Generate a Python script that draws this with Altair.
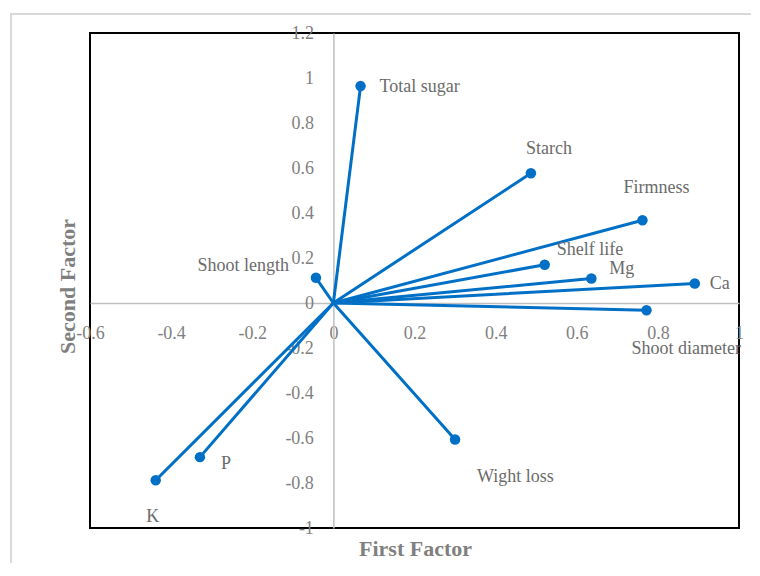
import altair as alt
import pandas as pd

# Variables and their loadings on the two factors
names = ["Total sugar", "Starch", "Firmness", "Shelf life", "Mg", "Ca",
         "Shoot diameter", "Shoot length", "Wight loss", "P", "K"]
first_factor = [0.067, 0.487, 0.762, 0.521, 0.636, 0.891, 0.772, -0.043, 0.300, -0.329, -0.438]
second_factor = [0.964, 0.577, 0.368, 0.170, 0.109, 0.087, -0.032, 0.112, -0.607, -0.685, -0.788]

x_ticks = [-0.6, -0.4, -0.2, 0, 0.2, 0.4, 0.6, 0.8, 1]
y_ticks = [-1, -0.8, -0.6, -0.4, -0.2, 0, 0.2, 0.4, 0.6, 0.8, 1, 1.2]

df = pd.DataFrame({"name": names, "x": first_factor, "y": second_factor})
df["x0"] = 0.0
df["y0"] = 0.0

# label placement (style): dx, dy, align
label_style = {
    "Total sugar": (19, 1, "left"),
    "Starch": (-5, -24, "left"),
    "Firmness": (-19, -32, "left"),
    "Shelf life": (12, -15, "left"),
    "Mg": (18, -9, "left"),
    "Ca": (15, 1, "left"),
    "Shoot diameter": (-15, 39, "left"),
    "Shoot length": (-27, -12, "right"),
    "Wight loss": (22, 37, "left"),
    "P": (21, 7, "left"),
    "K": (-3, 37, "center"),
}

W, H = 649, 495
FONT = "Liberation Serif"
BLUE = "#0070C6"
LABEL_EXPR = "replace(format(datum.value, '~g'), '\u2212', '-')"

xscale = alt.Scale(domain=[-0.6, 1], nice=False, zero=False)
yscale = alt.Scale(domain=[-1, 1.2], nice=False, zero=False)

x_zero_px = (0 - (-0.6)) / 1.6 * W
y_zero_px = (1.2 - 0) / 2.2 * H

xaxis = alt.Axis(
    values=x_ticks, offset=-(H - y_zero_px), grid=False, ticks=False, tickSize=0,
    domainColor="#bfbfbf", domainWidth=1.5, labelColor="#808080", labelFont=FONT,
    labelFontSize=18, labelPadding=21, labelFlush=False, labelOverlap=False,
    labelBound=False, labelExpr=LABEL_EXPR,
    title="First Factor", titleFont=FONT, titleFontSize=22, titleFontWeight="bold",
    titleColor="#7f7f7f", titleX=325, titleY=H - y_zero_px + 20,
    titleAlign="center", titleBaseline="middle", titleAnchor="start",
)
yaxis = alt.Axis(
    values=y_ticks, offset=-x_zero_px, grid=False, ticks=False, tickSize=0,
    domainColor="#bfbfbf", domainWidth=1.5, labelColor="#808080", labelFont=FONT,
    labelFontSize=18, labelPadding=20, labelFlush=False, labelOverlap=False,
    labelBound=False, labelExpr=LABEL_EXPR,
    title="Second  Factor", titleFont=FONT, titleFontSize=22, titleFontWeight="bold",
    titleColor="#7f7f7f", titleX=-(x_zero_px + 23), titleY=253, titleAngle=270,
    titleAlign="center", titleBaseline="middle", titleAnchor="start",
)

base = alt.Chart(df)
one = base.transform_filter(alt.datum.name == "K")

# outer light-gray frame of the figure (only its left and top edges are in view)
frame_left = one.mark_rule(stroke="#d9d9d9", strokeWidth=2, clip=False).encode(
    x=alt.value(-79), y=alt.value(-19), y2=alt.value(800)
)
frame_top = one.mark_rule(stroke="#d9d9d9", strokeWidth=2, clip=False).encode(
    x=alt.value(-80), x2=alt.value(900), y=alt.value(-19)
)

rules = base.mark_rule(color=BLUE, strokeWidth=3, strokeCap="round").encode(
    x=alt.X("x0:Q", scale=xscale, axis=xaxis),
    y=alt.Y("y0:Q", scale=yscale, axis=yaxis),
    x2="x:Q",
    y2="y:Q",
)

points = base.mark_circle(color=BLUE, size=110, opacity=1).encode(
    x=alt.X("x:Q", scale=xscale, axis=xaxis),
    y=alt.Y("y:Q", scale=yscale, axis=yaxis),
)

layers = [frame_left, frame_top, rules, points]
for n in names:
    dx, dy, align = label_style[n]
    layers.append(
        base.transform_filter(alt.datum.name == n).mark_text(
            dx=dx, dy=dy, align=align, baseline="middle", font=FONT,
            fontSize=18, color="#6b6b6b", clip=False
        ).encode(
            x=alt.X("x:Q", scale=xscale, axis=xaxis),
            y=alt.Y("y:Q", scale=yscale, axis=yaxis),
            text="name:N",
        )
    )

chart = alt.layer(*layers).properties(
    width=W, height=H,
    autosize=alt.AutoSizeParams(type="none"),
    padding={"left": 82, "top": 25, "right": 12, "bottom": 35},
    background="white",
).configure_view(stroke="black", strokeWidth=2)

chart.save("out.html", embed_options={"renderer": "svg", "actions": False})
